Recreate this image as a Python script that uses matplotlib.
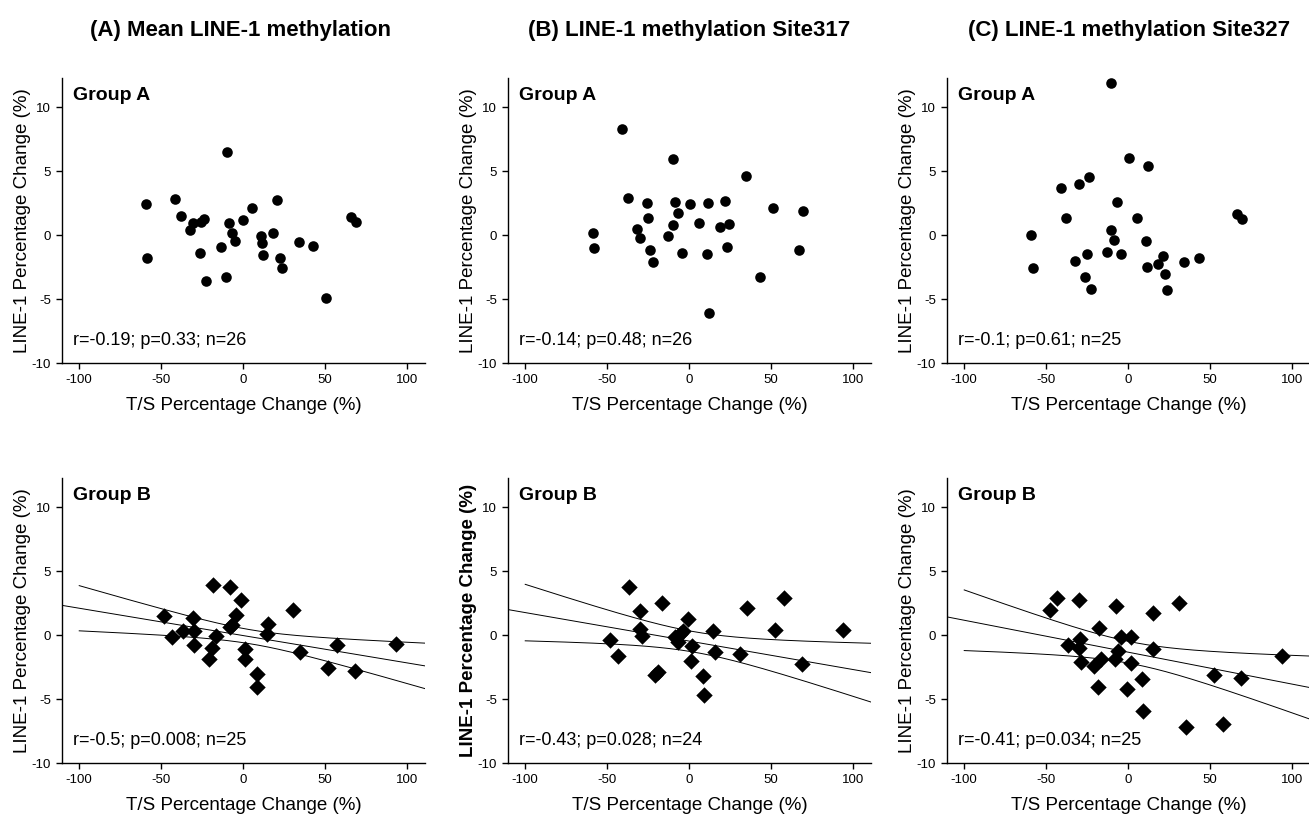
import numpy as np
import matplotlib
matplotlib.use("Agg")
import matplotlib.pyplot as plt

plt.rcParams['font.family'] = ['Liberation Sans', 'DejaVu Sans']
plt.rcParams['axes.unicode_minus'] = False

# Panel titles
titles = ["(A) Mean LINE-1 methylation", "(B) LINE-1 methylation Site317", "(C) LINE-1 methylation Site327"]

# Group A (top row): T/S change vs LINE-1 change
a_mean_x = [-59.3, -58.5, -41.6, -37.8, -32.3, -30.5, -25.8, -24.0, -26.2, -22.9, -13.4, -10.5, -10.1, -8.7,
            -6.9, -4.9, 0.0, 5.3, 10.8, 11.2, 11.8, 18.3, 20.7, 22.2, 23.6, 34.0, 42.7, 50.6, 65.9, 68.7]
a_mean_y = [2.45, -1.8, 2.8, 1.54, 0.39, 0.94, 1.0, 1.25, -1.38, -3.59, -0.94, -3.28, 6.5, 0.99,
            0.16, -0.44, 1.17, 2.16, -0.05, -0.6, -1.56, 0.16, 2.76, -1.82, -2.58, -0.57, -0.88, -4.9, 1.46, 1.07]

a_317_x = [-58.8, -57.8, -41.0, -37.3, -31.8, -29.8, -25.7, -24.9, -23.7, -22.4, -12.9, -10.2, -9.9, -8.4, -6.6,
           -4.6, 0.5, 5.8, 11.1, 11.7, 12.3, 18.6, 21.5, 22.9, 24.1, 34.5, 43.2, 51.1, 66.8, 69.2]
a_317_y = [0.16, -1.04, 8.3, 2.92, 0.5, -0.2, 2.55, 1.36, -1.14, -2.1, -0.08, 0.76, 5.97, 2.63, 1.72,
           -1.43, 2.42, 0.99, -1.51, 2.55, -6.06, 0.63, 2.69, -0.91, 0.84, 4.64, -3.3, 2.09, -1.12, 1.9]

a_327_x = [-59.3, -58.0, -41.2, -37.7, -32.3, -29.8, -26.2, -25.4, -23.9, -22.7, -13.2, -10.3, -10.3, -8.7, -6.6,
           -4.6, 0.5, 5.5, 10.9, 11.5, 12.1, 18.4, 21.2, 22.6, 23.8, 34.2, 42.9, 66.5, 69.1]
a_327_y = [0.03, -2.55, 3.67, 1.33, -2.03, 3.98, -3.28, -1.51, 4.59, -4.24, -1.3, 11.93, 0.42, -0.36, 2.61,
           -1.46, 6.07, 1.38, -0.47, -2.45, 5.42, -2.26, -1.64, -3.07, -4.3, -2.08, -1.8, 1.62, 1.25]

# Group B (bottom row)
b_mean_x = [-48.4, -43.5, -37.0, -30.5, -30.3, -30.3, -20.9, -19.1, -18.7, -16.8, -8.3, -7.9, -6.9, -4.5,
            -1.2, 1.2, 1.0, 8.2, 8.2, 14.3, 14.9, 30.5, 34.4, 51.5, 57.3, 68.1, 93.3]
b_mean_y = [1.48, -0.13, 0.34, 1.38, 0.3, -0.73, -1.88, -1.02, 3.93, -0.1, 0.65, 3.75, 0.76, 1.56,
            2.73, -1.09, -1.85, -3.07, -4.09, 0.1, 0.89, 1.95, -1.33, -2.53, -0.73, -2.81, -0.65]

b_317_x = [-48.1, -43.4, -36.5, -30.2, -29.8, -29.1, -20.8, -18.8, -16.6, -8.8, -6.8, -5.8, -4.0,
           -0.7, 1.7, 1.3, 8.2, 8.8, 14.5, 15.7, 31.0, 34.9, 52.1, 57.8, 68.6, 93.8]
b_317_y = [-0.39, -1.64, 3.75, 1.88, 0.52, -0.1, -3.13, -2.86, 2.53, -0.13, -0.5, 0.13, 0.34,
           1.3, -0.83, -2.0, -3.2, -4.69, 0.31, -1.33, -1.51, 2.11, 0.44, 2.89, -2.29, 0.44]

b_327_x = [-47.9, -43.4, -36.5, -29.8, -29.2, -30.0, -29.0, -21.1, -18.7, -17.8, -16.4, -8.3, -7.5, -6.5,
           -4.2, -0.7, 1.5, 1.7, 8.4, 9.0, 15.3, 14.9, 30.7, 35.0, 52.1, 58.0, 68.8, 94.0]
b_327_y = [2.0, 2.92, -0.73, 2.79, -0.31, -1.04, -2.08, -2.42, -4.04, 0.6, -1.9, -1.9, 2.32, -1.22,
           -0.18, -4.22, -0.18, -2.16, -3.44, -5.94, -1.09, 1.72, 2.5, -7.19, -3.1, -6.98, -3.36, -1.62]

# Group B regression lines:
# intercept, slope, centre of the x data, CI half-width at centre, CI growth
fit_intercept = [-0.03, -0.46, -1.33]
fit_slope = [-0.0214, -0.0223, -0.0250]
fit_xmean = [5.0, 3.0, 3.0]
fit_w0 = [0.55, 0.80, 0.85]
fit_k = [0.0160, 0.0200, 0.0215]

stats_a = ["r=-0.19; p=0.33; n=26", "r=-0.14; p=0.48; n=26", "r=-0.1; p=0.61; n=25"]
stats_b = ["r=-0.5; p=0.008; n=25", "r=-0.43; p=0.028; n=24", "r=-0.41; p=0.034; n=25"]

top_x = [a_mean_x, a_317_x, a_327_x]
top_y = [a_mean_y, a_317_y, a_327_y]
bot_x = [b_mean_x, b_317_x, b_327_x]
bot_y = [b_mean_y, b_317_y, b_327_y]

XLIM = (-110.5, 110.8)
YLIM = (-10, 12.3)

fig = plt.figure(figsize=(13.09, 8.16), dpi=100)
W, H = 1309.0, 816.0
lefts = [62, 508, 947]
ax_w = 363


def style_axes(ax, bold_ylabel=False):
    ax.set_xlim(XLIM)
    ax.set_ylim(YLIM)
    ax.set_xticks([-100, -50, 0, 50, 100])
    ax.set_yticks([-10, -5, 0, 5, 10])
    for s in ['top', 'right']:
        ax.spines[s].set_visible(False)
    for s in ['left', 'bottom']:
        ax.spines[s].set_linewidth(1.0)
    ax.tick_params(direction='out', length=4, width=1, labelsize=9.5, pad=4)
    ax.set_xlabel("T/S Percentage Change (%)", fontsize=13.5, labelpad=8)
    ax.set_ylabel("LINE-1 Percentage Change (%)", fontsize=13.5, labelpad=0.5,
                  fontweight='bold' if bold_ylabel else 'normal')


def draw_fit(ax, i):
    xs = np.linspace(XLIM[0], XLIM[1], 200)
    ax.plot(xs, fit_intercept[i] + fit_slope[i] * xs, color='black', lw=0.7)
    xc = np.linspace(-100, XLIM[1], 200)
    yc = fit_intercept[i] + fit_slope[i] * xc
    hw = np.sqrt(fit_w0[i] ** 2 + (fit_k[i] * (xc - fit_xmean[i])) ** 2)
    ax.plot(xc, yc + hw, color='black', lw=0.7)
    ax.plot(xc, yc - hw, color='black', lw=0.7)


for i in range(3):
    # top row
    ax = fig.add_axes([lefts[i] / W, 1 - 363 / H, ax_w / W, (363 - 78) / H])
    ax.scatter(top_x[i], top_y[i], s=58, color='black', marker='o', zorder=3, linewidths=0)
    style_axes(ax)
    ax.text(0.03, 0.97, "Group A", transform=ax.transAxes, fontsize=14, fontweight='bold', va='top')
    ax.text(0.03, 0.05, stats_a[i], transform=ax.transAxes, fontsize=13, va='bottom')

    # bottom row
    ax = fig.add_axes([lefts[i] / W, 1 - 763 / H, ax_w / W, (763 - 478) / H])
    draw_fit(ax, i)
    ax.scatter(bot_x[i], bot_y[i], s=70, color='black', marker='D', zorder=3, linewidths=0)
    style_axes(ax, bold_ylabel=(i == 1))
    ax.text(0.03, 0.97, "Group B", transform=ax.transAxes, fontsize=14, fontweight='bold', va='top')
    ax.text(0.03, 0.05, stats_b[i], transform=ax.transAxes, fontsize=13, va='bottom')

# column titles
title_lefts = [90, 528, 968]
for i in range(3):
    fig.text(title_lefts[i] / W, 1 - 36 / H, titles[i], fontsize=16, fontweight='bold',
             ha='left', va='baseline')

fig.savefig("out.png", dpi=100)
